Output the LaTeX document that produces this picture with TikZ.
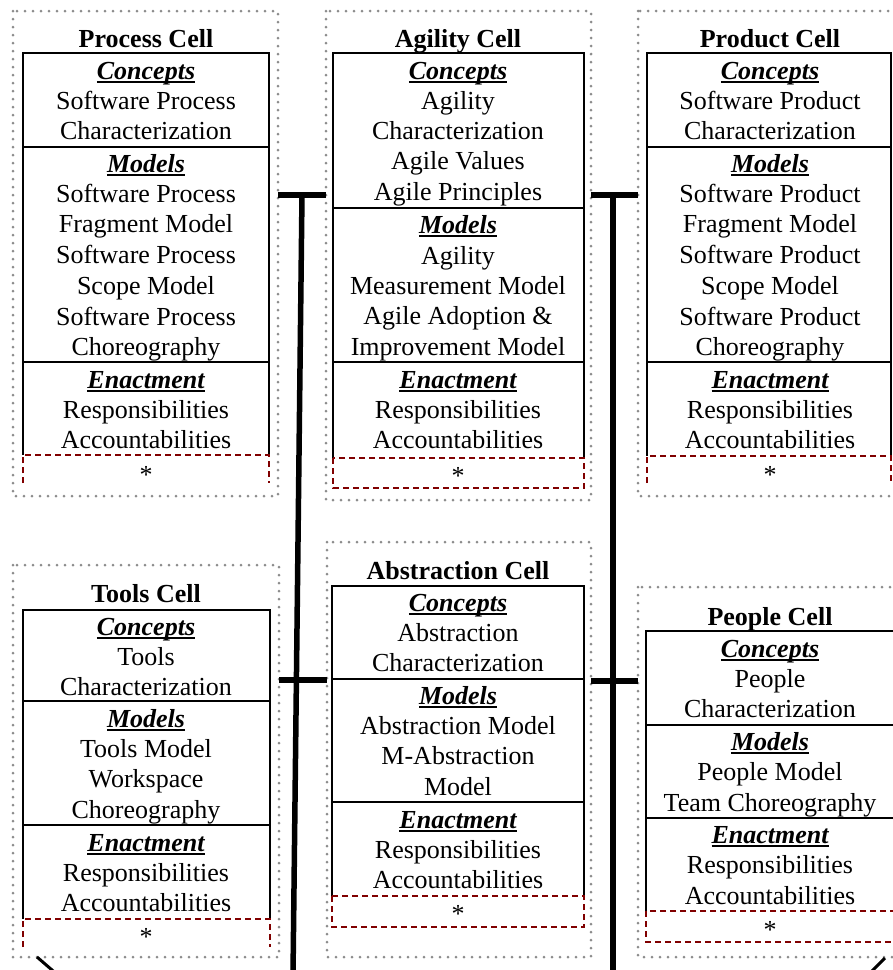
\documentclass[tikz,border=0pt]{standalone}
\usepackage{fontspec}
\setmainfont{Liberation Serif}
\usetikzlibrary{calc}
\definecolor{dotgray}{RGB}{140,140,140}
\definecolor{boxred}{RGB}{128,0,0}
\newcommand\cellhdr[1]{\setbox0\hbox{\bfseries\itshape #1}\leavevmode\rlap{\rule[-4pt]{\wd0}{1.8pt}}\box0}
\tikzset{
  txt/.style={anchor=base, inner sep=0pt, font=\fontsize{26}{30}\selectfont},
  ttl/.style={anchor=base, inner sep=0pt, font=\fontsize{26}{30}\selectfont\bfseries},
  dotbox/.style={draw=dotgray, line width=3pt, dash pattern=on 0pt off 8pt, line cap=round},
  inbox/.style={draw=black, line width=2pt},
  rdash/.style={draw=boxred, line width=2pt, dash pattern=on 6pt off 4pt},
  bar/.style={draw=black, line width=5.5pt},
  diag/.style={draw=black, line width=3pt}
}
\begin{document}
\begin{tikzpicture}[x=1pt,y=-1pt]
\useasboundingbox (0,0) rectangle (893,970);
\clip (0,0) rectangle (893,970);

% ---------- outer dotted cells ----------
\draw[dotbox] (13,11) rectangle (278,496);
\draw[dotbox] (326,11) rectangle (591,500);
\draw[dotbox] (638,11) rectangle (910,496);
\draw[dotbox] (13,565) rectangle (279,957);
\draw[dotbox] (327,542) rectangle (591,957);
\draw[dotbox] (638,587) rectangle (910,957);

\coordinate (procE) at (278,195);
\coordinate (agilW) at (326,195);
\coordinate (agilE) at (591,195);
\coordinate (prodW) at (638,195);
\coordinate (toolE) at (279,680);
\coordinate (abstW) at (327,680);
\coordinate (abstE) at (591,681);
\coordinate (peopW) at (638,681);
\coordinate (vlT) at (302,195);
\coordinate (vlB) at (293,975);
\coordinate (vrT) at (613,195);
\coordinate (vrB) at (613,975);
\coordinate (dlA) at (37,957);
\coordinate (dlB) at (52,970);
\coordinate (drA) at (885,958);
\coordinate (drB) at (873,970);

% ---------- inner boxes ----------
% Process
\draw[inbox] (23,455) -- (23,53) -- (269,53) -- (269,455);
\draw[inbox] (23,147) -- (269,147);
\draw[inbox] (23,362) -- (269,362);
\draw[rdash] (23,483) -- (23,455) -- (269,455) -- (269,483);
% Agility
\draw[inbox] (333,458) -- (333,53) -- (584,53) -- (584,458);
\draw[inbox] (333,208) -- (584,208);
\draw[inbox] (333,362) -- (584,362);
\draw[rdash] (333,458) rectangle (584,488);
% Product
\draw[inbox] (647,456) -- (647,53) -- (891,53) -- (891,456);
\draw[inbox] (647,147) -- (891,147);
\draw[inbox] (647,362) -- (891,362);
\draw[rdash] (647,483) -- (647,456) -- (891,456) -- (891,483);
% Tools
\draw[inbox] (23,919) -- (23,610) -- (270,610) -- (270,919);
\draw[inbox] (23,701) -- (270,701);
\draw[inbox] (23,825) -- (270,825);
\draw[rdash] (23,947) -- (23,919) -- (270,919) -- (270,947);
% Abstraction
\draw[inbox] (332,896) -- (332,586) -- (584,586) -- (584,896);
\draw[inbox] (332,679) -- (584,679);
\draw[inbox] (332,802) -- (584,802);
\draw[rdash] (332,896) rectangle (584,927);
% People
\draw[inbox] (646,911) -- (646,631) -- (900,631) -- (900,911);
\draw[inbox] (646,725) -- (900,725);
\draw[inbox] (646,818) -- (900,818);
\draw[rdash] (646,911) rectangle (900,942);

% ---------- connectors ----------
\draw[bar] (vlT) -- (vlB);
\draw[bar] (vrT) -- (vrB);
\draw[bar] (procE) -- (agilW);
\draw[bar] (agilE) -- (prodW);
\draw[bar] (toolE) -- (abstW);
\draw[bar] (abstE) -- (peopW);
\draw[diag] (dlA) -- ($(dlA)!1.6!(dlB)$);
\draw[diag] (drA) -- ($(drA)!1.6!(drB)$);

% ---------- Process Cell ----------
\node[ttl] (p-t) at (146,47) {Process Cell};
\node[txt] (p-ch) at (146,79) {\cellhdr{Concepts}};
\node[txt] (p-c1) at (146,109) {Software Process};
\node[txt] (p-c2) at (146,139) {Characterization};
\node[txt] (p-mh) at (146,172) {\cellhdr{Models}};
\node[txt] (p-m1) at (146,202) {Software Process};
\node[txt] (p-m2) at (146,232) {Fragment Model};
\node[txt] (p-m3) at (146,263) {Software Process};
\node[txt] (p-m4) at (146,294) {Scope Model};
\node[txt] (p-m5) at (146,325) {Software Process};
\node[txt] (p-m6) at (146,355) {Choreography};
\node[txt] (p-eh) at (146,388) {\cellhdr{Enactment}};
\node[txt] (p-e1) at (146,418) {Responsibilities};
\node[txt] (p-e2) at (146,448) {Accountabilities};
\node[txt] (p-s) at (146,483) {*};

% ---------- Agility Cell ----------
\node[ttl] (a-t) at (458,47) {Agility Cell};
\node[txt] (a-ch) at (458,79) {\cellhdr{Concepts}};
\node[txt] (a-c1) at (458,109) {Agility};
\node[txt] (a-c2) at (458,139) {Characterization};
\node[txt] (a-c3) at (458,169) {Agile Values};
\node[txt] (a-c4) at (458,200) {Agile Principles};
\node[txt] (a-mh) at (458,233) {\cellhdr{Models}};
\node[txt] (a-m1) at (458,264) {Agility};
\node[txt] (a-m2) at (458,294) {Measurement Model};
\node[txt] (a-m3) at (458,324) {Agile Adoption \&};
\node[txt] (a-m4) at (458,355) {Improvement Model};
\node[txt] (a-eh) at (458,388) {\cellhdr{Enactment}};
\node[txt] (a-e1) at (458,418) {Responsibilities};
\node[txt] (a-e2) at (458,448) {Accountabilities};
\node[txt] (a-s) at (458,484) {*};

% ---------- Product Cell ----------
\node[ttl] (r-t) at (770,47) {Product Cell};
\node[txt] (r-ch) at (770,79) {\cellhdr{Concepts}};
\node[txt] (r-c1) at (770,109) {Software Product};
\node[txt] (r-c2) at (770,139) {Characterization};
\node[txt] (r-mh) at (770,172) {\cellhdr{Models}};
\node[txt] (r-m1) at (770,202) {Software Product};
\node[txt] (r-m2) at (770,232) {Fragment Model};
\node[txt] (r-m3) at (770,263) {Software Product};
\node[txt] (r-m4) at (770,294) {Scope Model};
\node[txt] (r-m5) at (770,325) {Software Product};
\node[txt] (r-m6) at (770,355) {Choreography};
\node[txt] (r-eh) at (770,388) {\cellhdr{Enactment}};
\node[txt] (r-e1) at (770,418) {Responsibilities};
\node[txt] (r-e2) at (770,448) {Accountabilities};
\node[txt] (r-s) at (770,483) {*};

% ---------- Tools Cell ----------
\node[ttl] (t-t) at (146,602) {Tools Cell};
\node[txt] (t-ch) at (146,635) {\cellhdr{Concepts}};
\node[txt] (t-c1) at (146,665) {Tools};
\node[txt] (t-c2) at (146,695) {Characterization};
\node[txt] (t-mh) at (146,727) {\cellhdr{Models}};
\node[txt] (t-m1) at (146,757) {Tools Model};
\node[txt] (t-m2) at (146,787) {Workspace};
\node[txt] (t-m3) at (146,818) {Choreography};
\node[txt] (t-eh) at (146,851) {\cellhdr{Enactment}};
\node[txt] (t-e1) at (146,881) {Responsibilities};
\node[txt] (t-e2) at (146,911) {Accountabilities};
\node[txt] (t-s) at (146,945) {*};

% ---------- Abstraction Cell ----------
\node[ttl] (b-t) at (458,579) {Abstraction Cell};
\node[txt] (b-ch) at (458,611) {\cellhdr{Concepts}};
\node[txt] (b-c1) at (458,641) {Abstraction};
\node[txt] (b-c2) at (458,671) {Characterization};
\node[txt] (b-mh) at (458,704) {\cellhdr{Models}};
\node[txt] (b-m1) at (458,734) {Abstraction Model};
\node[txt] (b-m2) at (458,764) {M-Abstraction};
\node[txt] (b-m3) at (458,795) {Model};
\node[txt] (b-eh) at (458,828) {\cellhdr{Enactment}};
\node[txt] (b-e1) at (458,858) {Responsibilities};
\node[txt] (b-e2) at (458,888) {Accountabilities};
\node[txt] (b-s) at (458,922) {*};

% ---------- People Cell ----------
\node[ttl] (e-t) at (770,625) {People Cell};
\node[txt] (e-ch) at (770,657) {\cellhdr{Concepts}};
\node[txt] (e-c1) at (770,687) {People};
\node[txt] (e-c2) at (770,717) {Characterization};
\node[txt] (e-mh) at (770,750) {\cellhdr{Models}};
\node[txt] (e-m1) at (770,780) {People Model};
\node[txt] (e-m2) at (770,811) {Team Choreography};
\node[txt] (e-eh) at (770,843) {\cellhdr{Enactment}};
\node[txt] (e-e1) at (770,873) {Responsibilities};
\node[txt] (e-e2) at (770,904) {Accountabilities};
\node[txt] (e-s) at (770,938) {*};
\end{tikzpicture}
\end{document}
